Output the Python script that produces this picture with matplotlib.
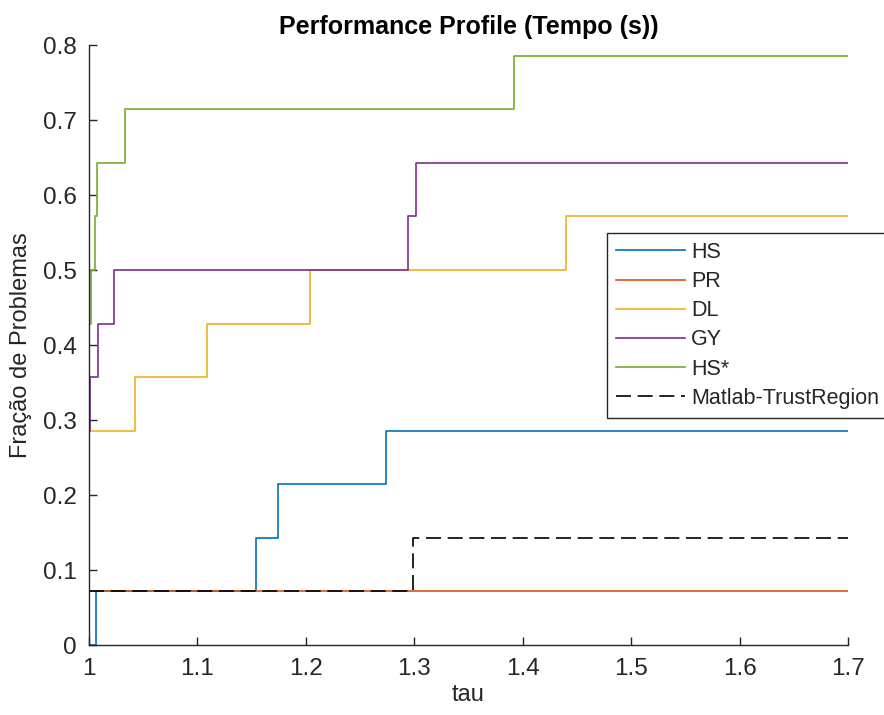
import matplotlib
matplotlib.use("Agg")
import matplotlib.pyplot as plt

plt.rcParams['font.family'] = ['Liberation Sans', 'DejaVu Sans']

n_problems = 14

# (tau breakpoints, number of problems solved) for each solver
hs_tau = [1, 1.006, 1.154, 1.174, 1.274, 1.7]
hs_cnt = [0, 1, 2, 3, 4, 4]
pr_tau = [1, 1.7]
pr_cnt = [1, 1]
dl_tau = [1, 1, 1.042, 1.109, 1.204, 1.44, 1.7]
dl_cnt = [3, 4, 5, 6, 7, 8, 8]
gy_tau = [1, 1.001, 1.0085, 1.023, 1.294, 1.302, 1.7]
gy_cnt = [4, 5, 6, 7, 8, 9, 9]
hss_tau = [1, 1.002, 1.0055, 1.0077, 1.033, 1.392, 1.7]
hss_cnt = [6, 7, 8, 9, 10, 11, 11]
tr_tau = [1, 1.299, 1.7]
tr_cnt = [1, 2, 2]

labels = ["HS", "PR", "DL", "GY", "HS*", "Matlab-TrustRegion"]
colors = ["#0072BD", "#D95319", "#EDB120", "#7E2F8E", "#77AC30", "black"]
series = [(hs_tau, hs_cnt), (pr_tau, pr_cnt), (dl_tau, dl_cnt),
          (gy_tau, gy_cnt), (hss_tau, hss_cnt), (tr_tau, tr_cnt)]

xticks = [1, 1.1, 1.2, 1.3, 1.4, 1.5, 1.6, 1.7]
xtick_labels = ["1", "1.1", "1.2", "1.3", "1.4", "1.5", "1.6", "1.7"]
yticks = [0, 0.1, 0.2, 0.3, 0.4, 0.5, 0.6, 0.7, 0.8]
ytick_labels = ["0", "0.1", "0.2", "0.3", "0.4", "0.5", "0.6", "0.7", "0.8"]

fig = plt.figure(figsize=(8.84, 7.15), dpi=100)
ax = fig.add_axes([0.1007, 0.0979, 0.8586, 0.8391])

for (tau, cnt), lab, col in zip(series, labels, colors):
    frac = [c / n_problems for c in cnt]
    if lab == "Matlab-TrustRegion":
        ax.step(tau, frac, where="post", color=col, lw=1.2, label=lab,
                dashes=(9, 4))
    else:
        ax.step(tau, frac, where="post", color=col, lw=1.2, label=lab)

axcol = "#262626"
ax.set_xlim(1, 1.7)
ax.set_ylim(0, 0.8)
ax.set_xticks(xticks)
ax.set_xticklabels(xtick_labels)
ax.set_yticks(yticks)
ax.set_yticklabels(ytick_labels)
ax.tick_params(direction="in", length=6, width=1, colors=axcol,
               labelsize=17.5, pad=9)
for s in ["top", "right"]:
    ax.spines[s].set_visible(False)
for s in ["left", "bottom"]:
    ax.spines[s].set_color(axcol)
    ax.spines[s].set_linewidth(1)

ax.set_title("Performance Profile (Tempo (s))", fontsize=18,
             fontweight="bold", color="black", pad=8)
ax.set_xlabel("tau", fontsize=17, color=axcol, labelpad=3)
ax.set_ylabel("Fração de Problemas", fontsize=17, color=axcol, labelpad=8)

leg = ax.legend(loc="upper left", bbox_to_anchor=(0.682, 0.687),
                borderaxespad=0, fontsize=15.5, handlelength=3.2,
                handletextpad=0.3, labelspacing=0.38, borderpad=0.42,
                fancybox=False, framealpha=1, edgecolor=axcol)
leg.get_frame().set_linewidth(1)
for t in leg.get_texts():
    t.set_color(axcol)

fig.savefig("out.png", dpi=100)
